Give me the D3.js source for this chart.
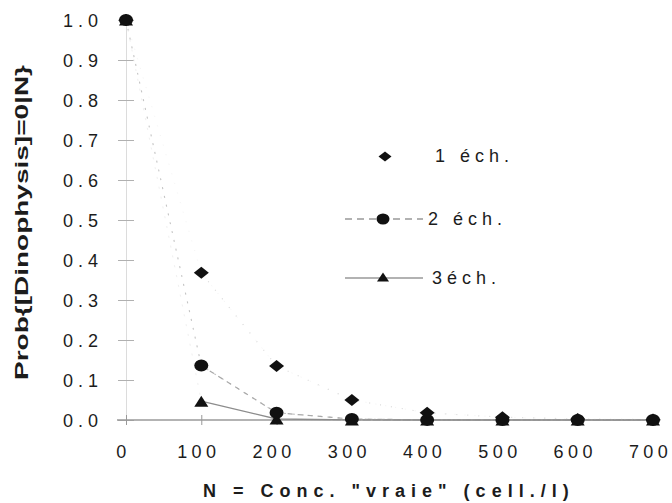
<!DOCTYPE html>
<html>
<head>
<meta charset="utf-8">
<script src="https://d3js.org/d3.v7.min.js"></script>
<style>
body { margin: 0; background: #fff; }
text { font-family: "Liberation Sans", Arial, sans-serif; fill: #1c1c1c; }
</style>
</head>
<body>
<div id="chart"></div>
<script>
var svgWidth = 672;
var svgHeight = 503;

// Values
var concN = [0, 100, 200, 300, 400, 500, 600, 700];
var ech1 = [1.0, 0.368, 0.135, 0.050, 0.018, 0.007, 0.0025, 0.001];
var ech2 = [1.0, 0.136, 0.018, 0.0025, 0.0003, 0, 0, 0];
var ech3 = [1.0, 0.047, 0.0025, 0.0001, 0, 0, 0, 0];
var seriesNames = ["1 éch.", "2 éch.", "3éch."];
var xTicks = [0, 100, 200, 300, 400, 500, 600, 700];
var yTicks = [0, 0.1, 0.2, 0.3, 0.4, 0.5, 0.6, 0.7, 0.8, 0.9, 1.0];

var svg = d3.select("#chart")
    .append("svg")
    .attr("width", svgWidth)
    .attr("height", svgHeight);

// Scales
var xScale = d3.scaleLinear().domain([0, 700]).range([126, 653]);
var yScale = d3.scaleLinear().domain([0, 1]).range([420, 20]);

// Y axis (faint in the scan, ticks cross the line)
var leftAxis = d3.axisLeft(yScale)
    .tickValues(yTicks)
    .tickFormat(d3.format(".1f"))
    .tickSize(0)
    .tickSizeOuter(0);

var yAxisG = svg.append("g")
    .attr("transform", `translate(${xScale(0)}, 0)`)
    .call(leftAxis);

yAxisG.select(".domain").attr("stroke", "#dcdcdc");
yAxisG.selectAll(".tick line")
    .attr("x1", -8)
    .attr("x2", 8)
    .attr("stroke", "#b0b0b0");
yAxisG.selectAll(".tick text")
    .attr("x", -23)
    .attr("dy", null)
    .attr("y", 6)
    .style("font-size", "18px")
    .style("letter-spacing", "5px")
    .style("font-family", "'Liberation Sans', Arial, sans-serif")
    .attr("fill", "#1c1c1c");

// X axis
var bottomAxis = d3.axisBottom(xScale)
    .tickValues(xTicks)
    .tickFormat(d3.format("d"))
    .tickSize(0)
    .tickSizeOuter(0);

var xAxisG = svg.append("g")
    .attr("transform", `translate(0, ${yScale(0)})`)
    .call(bottomAxis);

xAxisG.select(".domain").remove();
xAxisG.append("line")
    .attr("x1", xScale(-12))
    .attr("x2", xScale(710))
    .attr("stroke", "#9a9a9a")
    .attr("stroke-width", 1.6);
xAxisG.selectAll(".tick line")
    .attr("y1", -5)
    .attr("y2", 5)
    .attr("stroke", "#999");
xAxisG.selectAll(".tick text")
    .attr("dy", null)
    .attr("y", 38)
    .attr("dx", -3)
    .style("font-size", "18px")
    .style("letter-spacing", "4.4px")
    .style("font-family", "'Liberation Sans', Arial, sans-serif")
    .attr("fill", "#1c1c1c");

// Lines: the scan keeps only part of each line, so a faint full path
// sits under a stronger one from the second point on
var lineGen = d3.line()
    .x(d => xScale(d[0]))
    .y(d => yScale(d[1]));

var allSeries = [ech1, ech2, ech3].map(vals => vals.map((v, i) => [concN[i], v]));
var faintStyle = [
    { stroke: "#f4f4f4", dash: "1,9", width: 1 },
    { stroke: "#c4c4c4", dash: "2,7", width: 1.1 },
    { stroke: "#f0f0f0", dash: "2,8", width: 1 }
];
var strongStyle = [
    { stroke: "#dadada", dash: "1,10", width: 1.2 },
    { stroke: "#a8a8a8", dash: "5,5", width: 1.2 },
    { stroke: "#8c8c8c", dash: null, width: 1.3 }
];

allSeries.forEach((pts, s) => {
    svg.append("path")
        .attr("d", lineGen(pts))
        .attr("fill", "none")
        .attr("stroke", faintStyle[s].stroke)
        .attr("stroke-width", faintStyle[s].width)
        .attr("stroke-dasharray", faintStyle[s].dash);
    svg.append("path")
        .attr("d", lineGen(pts.slice(1)))
        .attr("fill", "none")
        .attr("stroke", strongStyle[s].stroke)
        .attr("stroke-width", strongStyle[s].width)
        .attr("stroke-dasharray", strongStyle[s].dash);
});

// Marker shapes
function diamondPath(w, h) { return `M${-w},0L0,${-h}L${w},0L0,${h}Z`; }
function trianglePath(w, h) { return `M${-w},${h / 2}L0,${-h / 2}L${w},${h / 2}Z`; }

var markColor = "#111";

svg.selectAll(".tri")
    .data(allSeries[2])
    .enter()
    .append("path")
    .attr("class", "tri")
    .attr("d", trianglePath(7, 11))
    .attr("transform", d => `translate(${xScale(d[0])}, ${yScale(d[1])})`)
    .attr("fill", markColor);

svg.selectAll(".circ")
    .data(allSeries[1])
    .enter()
    .append("ellipse")
    .attr("class", "circ")
    .attr("cx", d => xScale(d[0]))
    .attr("cy", d => yScale(d[1]))
    .attr("rx", 7)
    .attr("ry", 6)
    .attr("fill", markColor);

svg.selectAll(".diam")
    .data(allSeries[0])
    .enter()
    .append("path")
    .attr("class", "diam")
    .attr("d", diamondPath(7.5, 6))
    .attr("transform", d => `translate(${xScale(d[0])}, ${yScale(d[1])})`)
    .attr("fill", markColor);

// Legend
var legend = svg.append("g");

legend.append("path")
    .attr("d", diamondPath(6.5, 5))
    .attr("transform", "translate(385, 156.5)")
    .attr("fill", markColor);
legend.append("text")
    .attr("x", 435).attr("y", 162)
    .style("font-size", "18px")
    .style("letter-spacing", "5px")
    .text(seriesNames[0]);

legend.append("line")
    .attr("x1", 345).attr("x2", 423)
    .attr("y1", 219).attr("y2", 219)
    .attr("stroke", "#666")
    .attr("stroke-width", 1.2)
    .attr("stroke-dasharray", "7,5");
legend.append("ellipse")
    .attr("cx", 383).attr("cy", 219)
    .attr("rx", 6.5).attr("ry", 5.5)
    .attr("fill", markColor);
legend.append("text")
    .attr("x", 428).attr("y", 225)
    .style("font-size", "18px")
    .style("letter-spacing", "5px")
    .text(seriesNames[1]);

legend.append("line")
    .attr("x1", 345).attr("x2", 423)
    .attr("y1", 278).attr("y2", 278)
    .attr("stroke", "#666")
    .attr("stroke-width", 1.2);
legend.append("path")
    .attr("d", trianglePath(6, 9))
    .attr("transform", "translate(383, 277)")
    .attr("fill", markColor);
legend.append("text")
    .attr("x", 432).attr("y", 284)
    .style("font-size", "18px")
    .style("letter-spacing", "5px")
    .text(seriesNames[2]);

// Axis titles
svg.append("text")
    .attr("transform", "translate(28, 380) rotate(-90)")
    .attr("textLength", 315)
    .attr("lengthAdjust", "spacingAndGlyphs")
    .style("font-size", "18px")
    .style("font-weight", "bold")
    .text("Prob{[Dinophysis]=0|N}");

svg.append("text")
    .attr("x", 203)
    .attr("y", 497)
    .style("font-size", "18px")
    .style("font-weight", "bold")
    .style("letter-spacing", "6px")
    .text('N = Conc. "vraie" (cell./l)');
</script>
</body>
</html>
